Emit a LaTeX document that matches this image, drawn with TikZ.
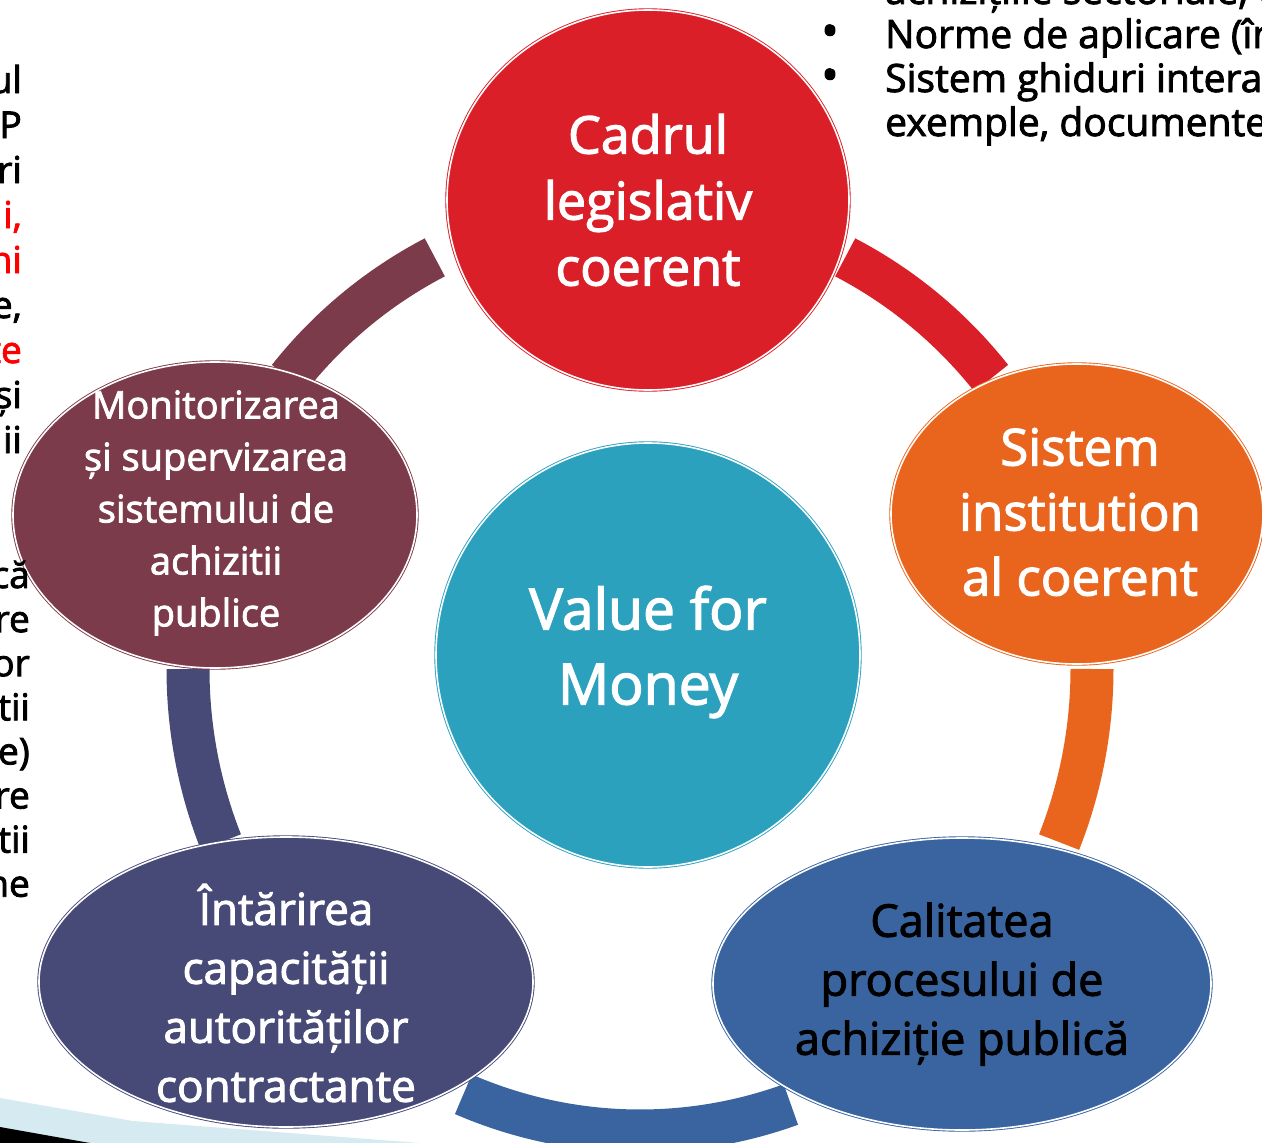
\documentclass[tikz,border=0pt]{standalone}
\usepackage{fontspec}
\setmainfont{Open Sans}[FakeBold=2.2]
\usetikzlibrary{shapes.geometric}
\definecolor{legred}{HTML}{DA1F28}
\definecolor{instorange}{HTML}{E9651E}
\definecolor{procblue}{HTML}{3A64A0}
\definecolor{capslate}{HTML}{474A77}
\definecolor{monmaroon}{HTML}{7C3B4A}
\definecolor{vfmteal}{HTML}{2CA1BE}
\definecolor{slideblue}{HTML}{D6EAF2}
\definecolor{notered}{HTML}{FF0000}
\newcommand{\fsz}[2]{\fontsize{#1}{#2}\selectfont}
\tikzset{
  bubble/.style={ellipse, fill=#1, draw=#1, double=white, double distance=1.6pt, line width=0.9pt, inner sep=0pt},
  band/.style={line width=43pt, draw=#1},
  lbl/.style={align=center, text=white, inner sep=0pt},
  frag/.style={anchor=base east, inner sep=0pt, font=\fsz{37}{44}},
  bul/.style={anchor=base west, inner sep=0pt, font=\fsz{39}{44}},
  dot/.style={anchor=base, inner sep=0pt, font=\fsz{46}{44}},
}
\begin{document}
\begin{tikzpicture}[x=1pt, y=-1pt]
\useasboundingbox (0,0) rectangle (1262,1143);
\fill[slideblue] (0,1098) -- (133,1121) -- (420,1143) -- (0,1143) -- cycle;
\fill[black] (0,1127) -- (90,1143) -- (0,1143) -- cycle;

\coordinate (ring) at (640,669);
\foreach \from/\to/\col in {-63/-39/legred, 0/22/instorange, 70.5/113/procblue, 158/180/capslate, 219/243/monmaroon}
  \draw[band=\col] ([shift=(\from:452 and 462)]ring) arc (\from:\to:452 and 462);

\node[bubble=legred, minimum width=402, minimum height=380] (legis) at (648,200) {};
\node[bubble=instorange, minimum width=372, minimum height=300] (inst) at (1077,514) {};
\node[bubble=procblue, minimum width=498, minimum height=292] (proc) at (962,984) {};
\node[bubble=capslate, minimum width=494, minimum height=290] (capac) at (286,982) {};
\node[bubble=monmaroon, minimum width=404, minimum height=306] (monit) at (215,515) {};
\node[bubble=vfmteal, minimum width=424, minimum height=424] (vfm) at (648,655) {};

\node[lbl, font=\fsz{52}{66}] (legis-t) at (legis) {Cadrul\\legislativ\\coerent};
\node[lbl, font=\fsz{51}{65}] (inst-t) at (1080,512) {Sistem\\institution\\al coerent};
\node[lbl, font=\fsz{45}{59}, text=black] (proc-t) at (962,984) {Calitatea\\procesului de\\achiziție publică};
\node[lbl, font=\fsz{44}{59}] (capac-t) at (286,993) {Întărirea\\capacității\\autorităților\\contractante};
\node[lbl, font=\fsz{38}{52}] (monit-t) at (216,513) {Monitorizarea\\și supervizarea\\sistemului de\\achizitii\\publice};
\node[lbl, font=\fsz{57}{75}] (vfm-t) at (648,652) {Value for\\Money};

\node[bul] (b0) at (885,4) {achizițiile sectoriale, c};
\node[bul] (b1) at (885,48) {Norme de aplicare (în};
\node[bul] (b2) at (885,92) {Sistem ghiduri intera};
\node[bul] (b3) at (885,136) {exemple, documente};
\node[dot] (d1) at (830,47) {•};
\node[dot] (d2) at (830,91) {•};

\foreach \t/\c [count=\i from 0] in {ul/black, AP/black, ri/black, {i,}/notered, ni/notered, {e,}/black, te/notered, și/black, ii/black}
  \node[frag, text=\c] (l\i) at (22,93+45*\i) {\t};
\foreach \t [count=\i from 0] in {că, re, or, tii, e), re, tii, ne}
  \node[frag] (r\i) at (30,588+44.1*\i) {\t};
\end{tikzpicture}
\end{document}
